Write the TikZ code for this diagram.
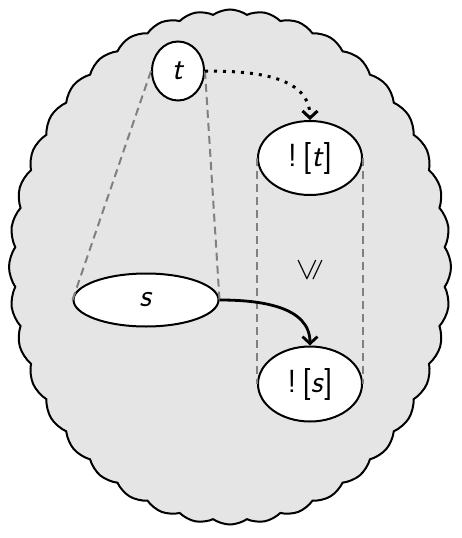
\documentclass[tikz,border=0pt]{standalone}
\usepackage{amssymb}
\usepackage{graphicx}
\usetikzlibrary{shapes.symbols,shapes.geometric,arrows.meta,positioning}
\tikzset{
  nube/.style={cloud,cloud puffs=40,cloud puff arc=70,cloud ignores aspect,draw=black,fill=black!10,line width=2pt,minimum width=442pt,minimum height=515pt},
  elip/.style={ellipse,draw=black,fill=white,line width=2pt,inner sep=0pt,font=\fontsize{32}{37}\selectfont\sffamily},
  guia/.style={gray,line width=2pt,dash pattern=on 8pt off 5pt},
  punteada/.style={-{Straight Barb[length=7pt,width=15pt]},line width=3pt,dash pattern=on 3pt off 6pt},
  flecha/.style={-{Straight Barb[length=7pt,width=15pt]},line width=2.8pt}
}
\begin{document}
\begin{tikzpicture}[x=1pt,y=1pt]
\useasboundingbox (0,0) rectangle (461,-538);
\node[nube] (fondo) at (230,-267) {};
% elementos
\node[elip,minimum width=52pt,minimum height=59pt] (t) at (178,-71) {\textit{t}};
\node[elip,minimum width=104pt,minimum height=74pt] (bt) at (310,-158) {!\,[\textit{t}]};
\node[elip,minimum width=145pt,minimum height=53pt] (s) at (146,-300) {\textit{s}};
\node[elip,minimum width=104pt,minimum height=75pt] (bs) at (310,-384) {!\,[\textit{s}]};
% relaciones
\draw[guia] (t.west) -- (s.west);
\draw[guia] (t.east) -- (s.east);
\draw[guia] (bt.west) -- (bs.west);
\draw[guia] (bt.east) -- (bs.east);
\node[font=\fontsize{32}{37}\selectfont] (rel) at (310,-270) {\rotatebox{90}{$\leqslant$}};
\draw[punteada] (t.east) to[out=0,in=90] (bt.north);
\draw[flecha] (s.east) to[out=0,in=90] (bs.north);
\end{tikzpicture}
\end{document}
